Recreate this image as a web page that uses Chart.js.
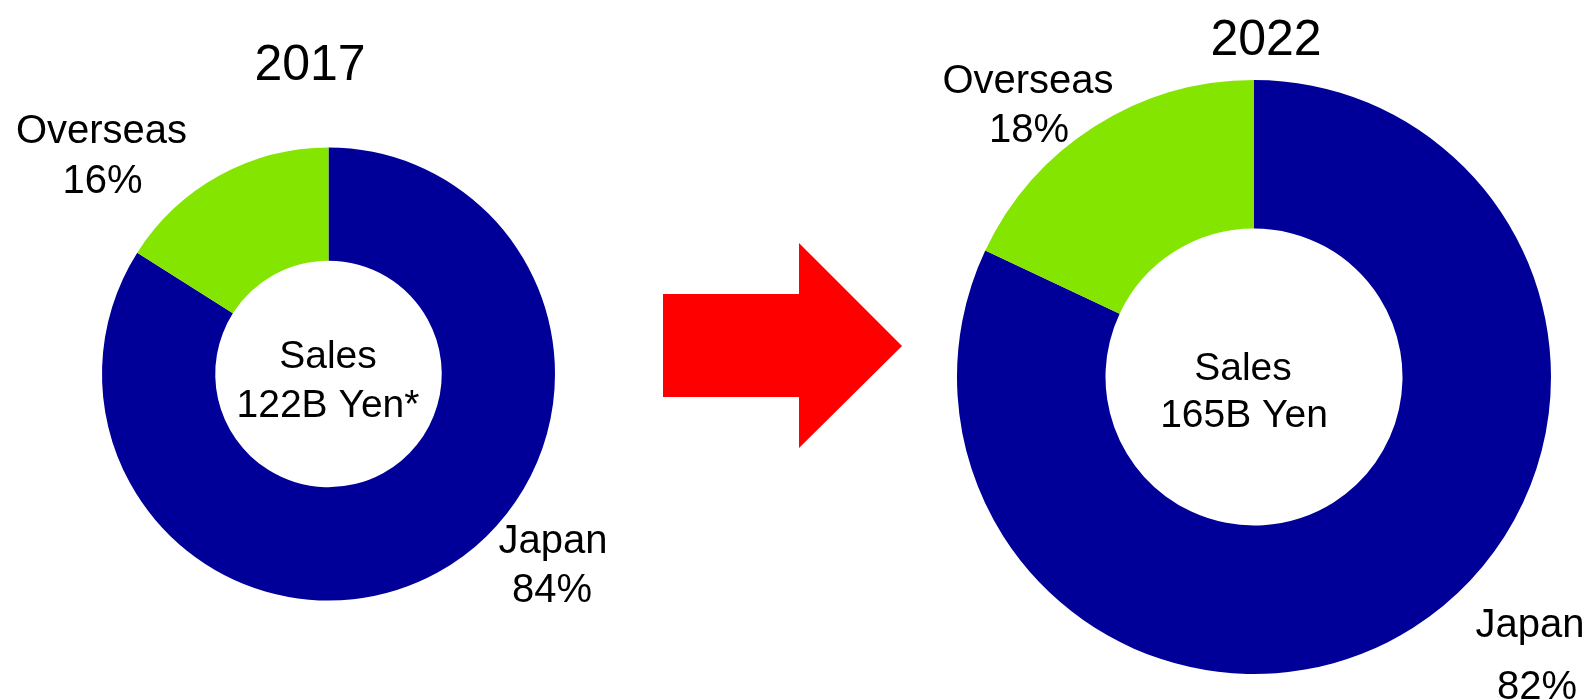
<!DOCTYPE html>
<html>
<head>
<meta charset="utf-8">
<script src="https://cdn.jsdelivr.net/npm/chart.js@4/dist/chart.umd.min.js"></script>
<style>
  body { margin:0; background:#fff; width:1590px; height:700px; overflow:hidden; position:relative; }
  canvas, svg { position:absolute; top:0; }
  #left { left:0; }
  #right { left:910px; }
  #arrow { left:0; }
</style>
</head>
<body>
<canvas id="left" width="660" height="700"></canvas>
<svg id="arrow" width="1590" height="700">
  <polygon points="663,294 799,294 799,243 902,346 799,448 799,397 663,397" fill="#ff0000"/>
</svg>
<canvas id="right" width="680" height="700"></canvas>
<script>
const regions = ['Japan', 'Overseas']
const share2017 = [84, 16]
const share2022 = [82, 18]
const years = ['2017', '2022']
const salesText = ['122B Yen*', '165B Yen']
const colors = ['#000099', '#84e600']

const font = '"Liberation Sans", Arial, sans-serif'

// draws title, slice labels and center text at given spots
const textLayer = {
    id:'textLayer',
    afterDraw(chart, args, opts){
        const ctx = chart.ctx
        const share = chart.data.datasets[0].data
        ctx.save()
        ctx.fillStyle = '#000'
        ctx.textAlign = 'center'
        ctx.textBaseline = 'alphabetic'
        ctx.font = '50px ' + font
        ctx.fillText(opts.year, opts.title[0], opts.title[1])
        ctx.font = '40px ' + font
        chart.data.labels.forEach((name, i) => {
            const p = opts.spots[i]
            ctx.fillText(name, p[0], p[1])
            ctx.fillText(share[i] + '%', p[2], p[3])
        })
        ctx.font = '39px ' + font
        ctx.fillText('Sales', opts.center[0], opts.center[1])
        ctx.fillText(opts.sales, opts.center[2], opts.center[3])
        ctx.restore()
    }
}

function donut(id, data, radius, padding, extra){
    return new Chart(document.getElementById(id),{
        type:'doughnut',
        data:{
            labels:regions,
            datasets:[{
                data:data,
                backgroundColor:colors,
                borderWidth:0,
                hoverOffset:0
            }]
        },
        options:{
            responsive:false,
            animation:false,
            events:[],
            devicePixelRatio:1,
            cutout:'50%',
            radius:radius,
            layout:{ padding:padding },
            plugins:{
                legend:{ display:false },
                tooltip:{ enabled:false },
                textLayer:extra
            }
        },
        plugins:[textLayer]
    })
}

donut('left', share2017, 226.5, {left:0, right:3, top:48, bottom:0}, {
    year:years[0],
    title:[310, 80],
    spots:[[553, 553, 552, 602], [101.5, 143, 102.5, 193]],
    center:[328, 368, 328, 417],
    sales:salesText[0]
})

donut('right', share2022, 297, {left:8, right:0, top:54, bottom:0}, {
    year:years[1],
    title:[356, 55],
    spots:[[620, 637, 627, 699], [118, 93, 119, 142]],
    center:[333, 380, 334, 427],
    sales:salesText[1]
})
</script>
</body>
</html>
